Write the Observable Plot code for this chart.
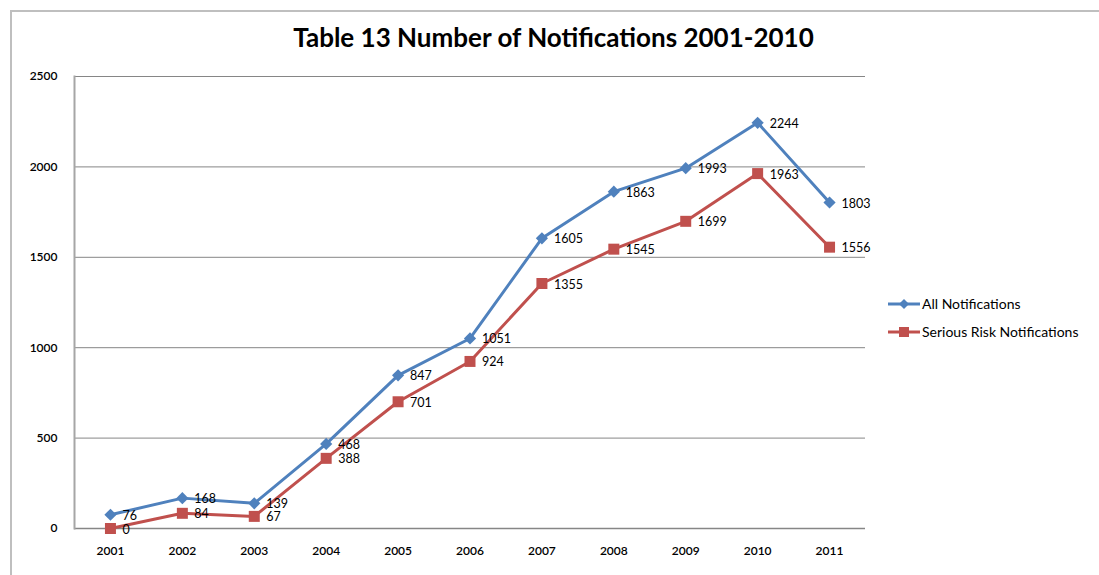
<!DOCTYPE html>
<html>
<head>
<meta charset="utf-8">
<script src="https://cdn.jsdelivr.net/npm/d3@7"></script>
<script src="https://cdn.jsdelivr.net/npm/@observablehq/plot@0.6"></script>
<style>
  html, body { margin: 0; padding: 0; background: #fff; }
  #wrap { position: relative; width: 1099px; height: 575px; overflow: hidden; font-family: Lato, "Open Sans", sans-serif; }
  #border { position: absolute; left: 10px; top: 10px; width: 1200px; height: 700px; border: 2px solid #bfbfbf; box-sizing: border-box; }
  #title { position: absolute; left: 0; width: 1107px; top: 21px; text-align: center; font-size: 26px; font-weight: 700; color: #000; }
  .leg { position: absolute; left: 886px; font-size: 14px; color: #000; display: flex; align-items: center; }
  .leg svg { margin-right: 0px; }
  #chart { position: absolute; left: 0; top: 0; }
</style>
</head>
<body>
<div id="wrap">
  <div id="border"></div>
  <div id="chart"></div>
  <div id="title">Table 13 Number of Notifications 2001-2010</div>
  <div class="leg" style="top:295px;"><svg width="36" height="14"><line x1="2" y1="7" x2="34" y2="7" stroke="#4F81BD" stroke-width="3"/><path d="M18,2 L23,7 L18,12 L13,7Z" fill="#4F81BD"/></svg>All Notifications</div>
  <div class="leg" style="top:323px;"><svg width="36" height="14"><line x1="2" y1="7" x2="34" y2="7" stroke="#C0504D" stroke-width="3"/><rect x="13" y="2" width="10" height="10" fill="#C0504D"/></svg>Serious Risk Notifications</div>
</div>
<script>
const years = ["2001","2002","2003","2004","2005","2006","2007","2008","2009","2010","2011"];
const allNotifications = [76, 168, 139, 468, 847, 1051, 1605, 1863, 1993, 2244, 1803];
const seriousRisk = [0, 84, 67, 388, 701, 924, 1355, 1545, 1699, 1963, 1556];
const yTicks = [0, 500, 1000, 1500, 2000, 2500];
const seriesNames = ["All Notifications", "Serious Risk Notifications"];
const colors = ["#4F81BD", "#C0504D"];

const allData = years.map((y, i) => ({year: y, value: allNotifications[i]}));
const srData = years.map((y, i) => ({year: y, value: seriousRisk[i]}));

const chart = Plot.plot({
  width: 1099,
  height: 575,
  marginLeft: 74,
  marginRight: 234,
  marginTop: 76,
  marginBottom: 47,
  style: {fontFamily: "Lato, 'Open Sans', sans-serif", fontSize: "12px", color: "#000", background: "transparent"},
  x: {type: "point", domain: years, padding: 0.5, round: false, label: null},
  y: {domain: [0, 2500], ticks: yTicks, label: null, tickFormat: "d"},
  marks: [
    Plot.ruleY(yTicks.filter(d => d > 0), {stroke: "#868686", strokeWidth: 1, strokeOpacity: 1}),
    Plot.ruleY([0], {stroke: "#868686", strokeWidth: 1.5}),
    Plot.frame({anchor: "left", stroke: "#a6a6a6", strokeWidth: 2}),
    Plot.axisY({ticks: yTicks, tickFormat: "d", tickSize: 0, tickPadding: 17, fontSize: 12, fontWeight: 600}),
    Plot.axisX({tickSize: 0, tickPadding: 18, fontSize: 12, fontWeight: 600}),
    Plot.line(allData, {x: "year", y: "value", stroke: colors[0], strokeWidth: 3}),
    Plot.line(srData, {x: "year", y: "value", stroke: colors[1], strokeWidth: 3}),
    Plot.dot(allData, {x: "year", y: "value", symbol: "diamond2", r: 5.5, fill: colors[0], stroke: null}),
    Plot.dot(srData, {x: "year", y: "value", symbol: "square2", r: 7, fill: colors[1], stroke: null}),
    Plot.text(allData, {x: "year", y: "value", text: d => String(d.value), textAnchor: "start", dx: 12, dy: 1, fontSize: 12.5, fill: "#000"}),
    Plot.text(srData, {x: "year", y: "value", text: d => String(d.value), textAnchor: "start", dx: 12, dy: 1, fontSize: 12.5, fill: "#000"})
  ]
});
document.getElementById("chart").appendChild(chart);
</script>
</body>
</html>
